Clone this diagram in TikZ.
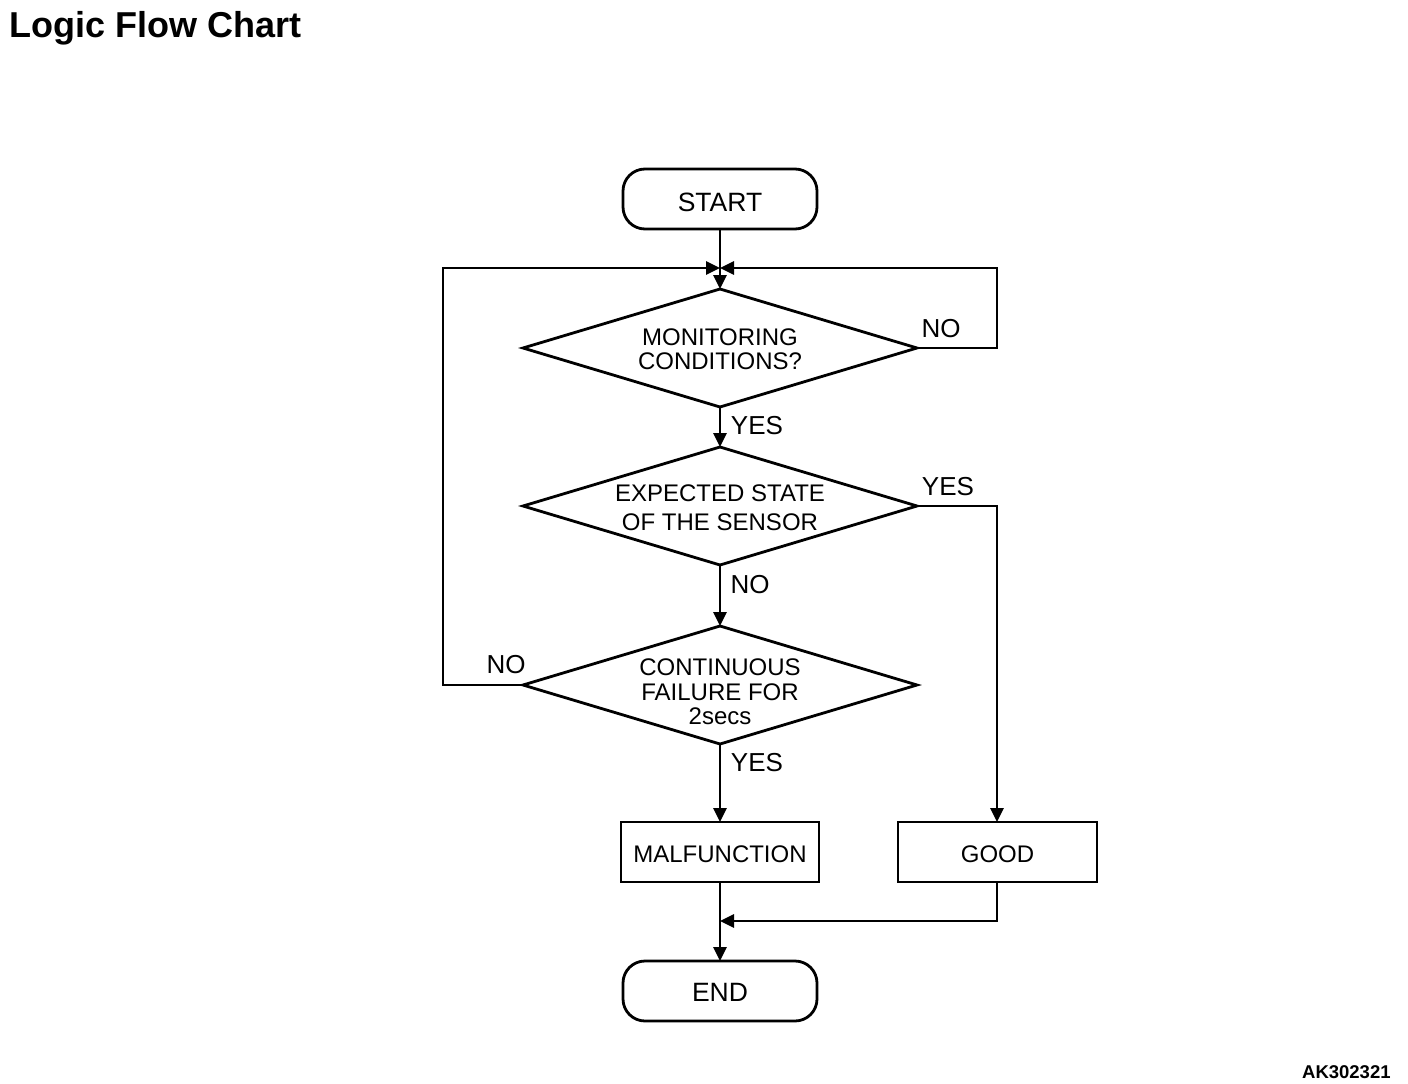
\documentclass[tikz,border=0pt]{standalone}
\usepackage{fontspec}
\setmainfont{Liberation Sans}
\usetikzlibrary{arrows.meta,shapes.geometric}
\begin{document}
\begin{tikzpicture}[x=1pt,y=-1pt,
  line width=2.8pt,
  arr/.style={-{Triangle[length=14pt,width=13pt]}},
  term/.style={draw,rounded corners=22pt,minimum width=194pt,minimum height=60pt,inner sep=0pt,outer sep=0pt,font=\fontsize{26.5}{28}\selectfont},
  proc/.style={draw,minimum width=198pt,minimum height=60pt,inner sep=0pt,outer sep=0pt,font=\fontsize{24}{26}\selectfont},
  dec/.style={draw,diamond,aspect=3.34,minimum width=394pt,minimum height=118pt,inner sep=0pt,outer sep=0pt},
  dtext/.style={align=center,inner sep=0pt},
  lbl/.style={font=\fontsize{26}{28}\selectfont,inner sep=0pt}
]
\useasboundingbox (0,0) rectangle (1408,1084);
\node[anchor=base west,font=\bfseries\fontsize{36}{40}\selectfont,inner sep=0pt] (title) at (8,37) {Logic Flow Chart};
\node[anchor=base east,font=\bfseries\fontsize{18.5}{20}\selectfont,inner sep=0pt] (code) at (1392,1078) {AK302321};

\node[term] (start) at (720,199) {};
\node[inner sep=0pt,font=\fontsize{26.5}{28}\selectfont] (startt) at (720,202) {START};
\node[dec] (d1) at (720,348) {};
\node[dtext,font=\fontsize{24}{24.5}\selectfont] (d1t) at (720,349) {MONITORING\\CONDITIONS?};
\node[dec] (d2) at (720,506) {};
\node[dtext,font=\fontsize{24}{29}\selectfont] (d2t) at (720,508) {EXPECTED STATE\\OF THE SENSOR};
\node[dec] (d3) at (720,685) {};
\node[dtext,font=\fontsize{24}{24.5}\selectfont] (d3t) at (720,692) {CONTINUOUS\\FAILURE FOR\\2secs};
\node[proc] (mal) at (720,852) {};
\node[inner sep=0pt,font=\fontsize{24}{26}\selectfont] (malt) at (720,854) {MALFUNCTION};
\node[proc,minimum width=199pt] (good) at (997.5,852) {};
\node[inner sep=0pt,font=\fontsize{24}{26}\selectfont] (goodt) at (997.5,854) {GOOD};
\node[term] (end) at (720,991) {};
\node[inner sep=0pt,font=\fontsize{26.5}{28}\selectfont] (endt) at (720,992) {END};

\coordinate (j) at (720,268);
\coordinate (m) at (720,921);
\coordinate (lt) at (443,268);
\coordinate (rt) at (997,268);
\coordinate (gb) at (997,921);

\draw (start.south) -- (j);
\draw[arr] (j) -- (d1.north);
\draw[arr] (d1.east) -- (d1.east -| rt) -- (rt) -- (j);
\draw[arr] (d3.west) -- (d3.west -| lt) -- (lt) -- (j);
\draw[arr] (d1.south) -- (d2.north);
\draw[arr] (d2.south) -- (d3.north);
\draw[arr] (d3.south) -- (mal.north);
\draw[arr] (d2.east) -- (d2.east -| rt) -- (good.north -| rt);
\draw[arr] (mal.south) -- (end.north);
\draw[arr] (good.south -| gb) -- (gb) -- (m);

\node[lbl] (n1) at (941,329) {NO};
\node[lbl] (y1) at (757,426) {YES};
\node[lbl] (y2) at (948,487) {YES};
\node[lbl] (n2) at (750,585) {NO};
\node[lbl] (n3) at (506,665) {NO};
\node[lbl] (y3) at (757,763) {YES};
\end{tikzpicture}
\end{document}
